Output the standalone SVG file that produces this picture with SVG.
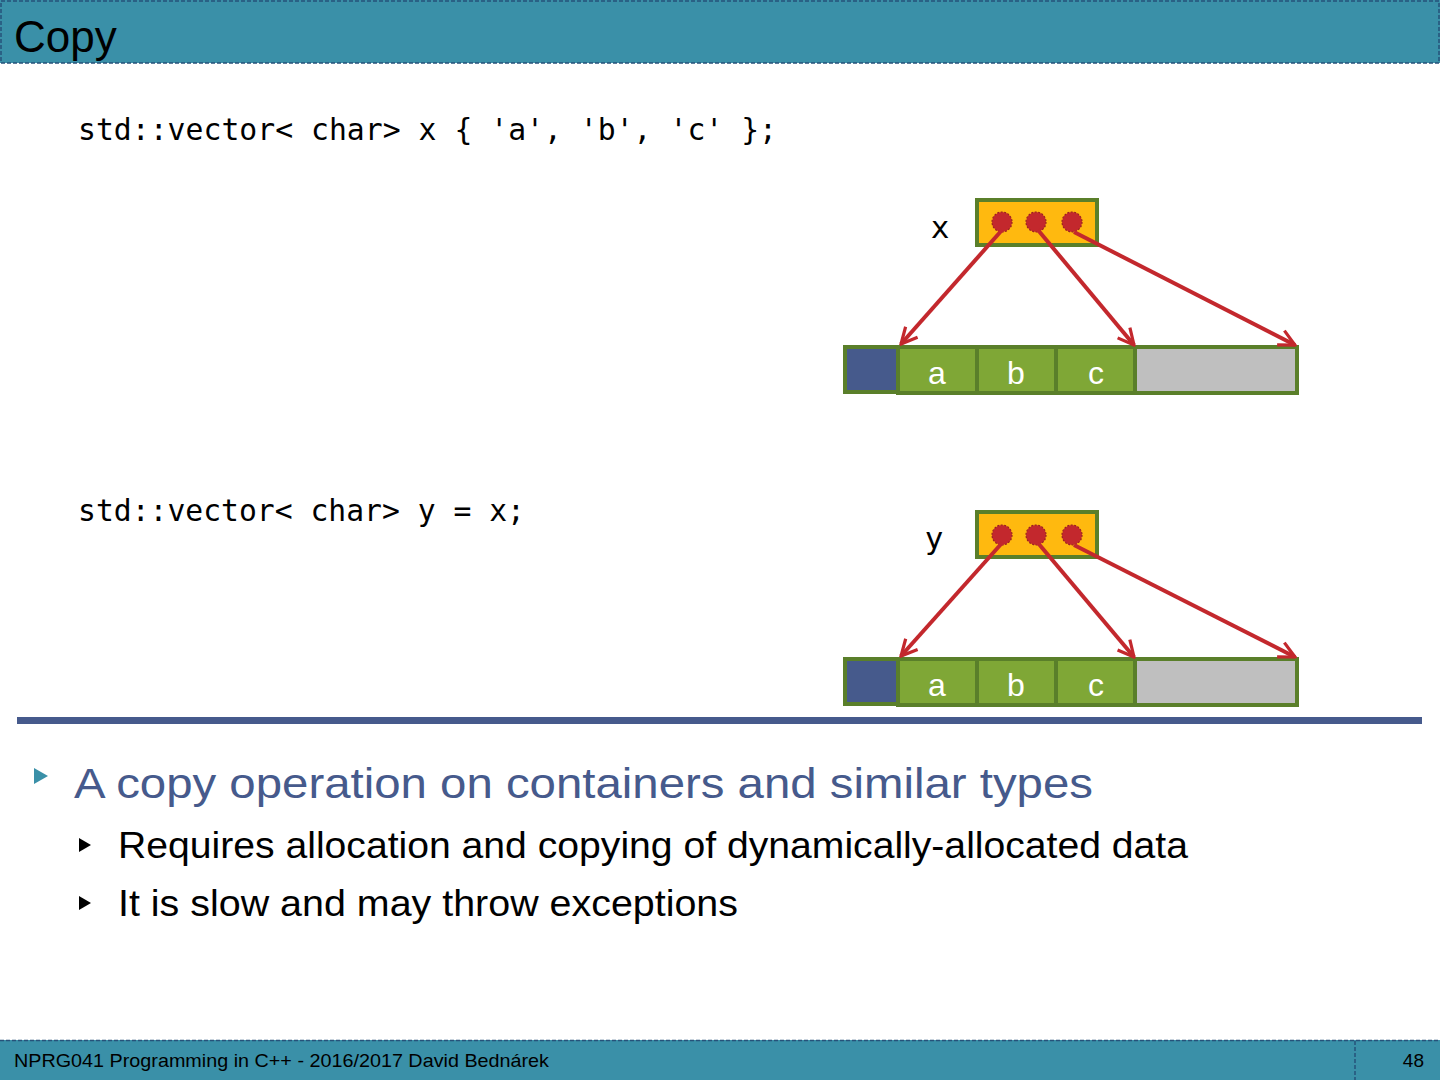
<svg xmlns="http://www.w3.org/2000/svg" width="1440" height="1080" viewBox="0 0 1440 1080">
<defs>
<style>
.code{font-family:"DejaVu Sans Mono","Liberation Mono",monospace;font-size:31px;fill:#000}
.cell{stroke:#5A7F2A;stroke-width:4}
.g{fill:#7FA736}
.lbl{font-family:"Liberation Sans",Arial,sans-serif;font-size:32px;fill:#fff;text-anchor:middle}
.dot{fill:#C3282D;stroke:#9A1E22;stroke-width:1.2;stroke-dasharray:2 1.5}
.arr{stroke:#C3282D;stroke-width:4;fill:none;marker-end:url(#ah)}
.ptr{fill:#FFB90F;stroke:#5A7F2A;stroke-width:4}
.sans{font-family:"Liberation Sans",Arial,sans-serif}
</style>
<marker id="ah" viewBox="0 0 10 10" refX="9" refY="5" markerWidth="5" markerHeight="5" orient="auto" markerUnits="strokeWidth">
<path d="M1,1 L9,5 L1,9" fill="none" stroke="#C3282D" stroke-width="1.6"/>
</marker>
</defs>
<rect width="1440" height="1080" fill="#fff"/>
<g id="header">
<rect x="0" y="0" width="1440" height="63" fill="#3A90A8"/>
<rect x="1" y="1" width="1438" height="62" fill="none" stroke="#26527A" stroke-width="1.5" stroke-dasharray="4 2"/>
<text x="14" y="52" class="sans" font-size="44" fill="#000">Copy</text>
</g>
<g id="code1"><text x="78" y="140" class="code" textLength="699" lengthAdjust="spacingAndGlyphs">std::vector&lt; char&gt; x { 'a', 'b', 'c' };</text></g>
<g id="code2"><text x="78" y="521" class="code" textLength="447" lengthAdjust="spacingAndGlyphs">std::vector&lt; char&gt; y = x;</text></g>

<g id="x-label"><text x="940" y="238" class="code" text-anchor="middle">x</text></g>
<g id="x-ptr">
<rect x="977" y="200" width="120" height="45" class="ptr"/>
<circle cx="1002" cy="222" r="10" class="dot"/>
<circle cx="1036" cy="222" r="10" class="dot"/>
<circle cx="1072" cy="222" r="10" class="dot"/>
</g>
<g id="x-array">
<rect x="845" y="347" width="53" height="45" fill="#465A8C" class="cell"/>
<rect x="898" y="347" width="79" height="46" class="cell g"/>
<rect x="977" y="347" width="79" height="46" class="cell g"/>
<rect x="1056" y="347" width="79" height="46" class="cell g"/>
<rect x="1135" y="347" width="162" height="46" fill="#BFBFBF" class="cell"/>
<text x="937" y="384" class="lbl">a</text>
<text x="1016" y="384" class="lbl">b</text>
<text x="1096" y="384" class="lbl">c</text>
</g>

<g id="y-label"><text x="934" y="549" class="code" text-anchor="middle">y</text></g>
<g id="y-ptr">
<rect x="977" y="512" width="120" height="45" class="ptr"/>
<circle cx="1002" cy="535" r="10" class="dot"/>
<circle cx="1036" cy="535" r="10" class="dot"/>
<circle cx="1072" cy="535" r="10" class="dot"/>
</g>
<g id="y-array">
<rect x="845" y="659" width="53" height="45" fill="#465A8C" class="cell"/>
<rect x="898" y="659" width="79" height="46" class="cell g"/>
<rect x="977" y="659" width="79" height="46" class="cell g"/>
<rect x="1056" y="659" width="79" height="46" class="cell g"/>
<rect x="1135" y="659" width="162" height="46" fill="#BFBFBF" class="cell"/>
<text x="937" y="696" class="lbl">a</text>
<text x="1016" y="696" class="lbl">b</text>
<text x="1096" y="696" class="lbl">c</text>
</g>

<g id="connectors">
<line x1="1002" y1="230" x2="901" y2="344" class="arr"/>
<line x1="1038" y1="230" x2="1134" y2="345" class="arr"/>
<line x1="1074" y1="232" x2="1295" y2="345" class="arr"/>
<line x1="1002" y1="543" x2="901" y2="656" class="arr"/>
<line x1="1038" y1="543" x2="1134" y2="657" class="arr"/>
<line x1="1074" y1="545" x2="1295" y2="657" class="arr"/>
</g>

<g id="separator"><rect x="17" y="717" width="1405" height="7" fill="#465A8C"/></g>

<g id="bullets">
<path d="M34,768 L48,776 L34,784 Z" fill="#3A90A8"/>
<text x="74" y="798" class="sans" font-size="42" fill="#465A8C" textLength="1019" lengthAdjust="spacingAndGlyphs">A copy operation on containers and similar types</text>
<path d="M79,838 L91,845 L79,852 Z" fill="#000"/>
<text x="118" y="858" class="sans" font-size="36" fill="#000" textLength="1070" lengthAdjust="spacingAndGlyphs">Requires allocation and copying of dynamically-allocated data</text>
<path d="M79,896 L91,903 L79,910 Z" fill="#000"/>
<text x="118" y="916" class="sans" font-size="36" fill="#000" textLength="620" lengthAdjust="spacingAndGlyphs">It is slow and may throw exceptions</text>
</g>

<g id="footer">
<rect x="0" y="1040" width="1440" height="40" fill="#3A90A8"/>
<line x1="0" y1="1040.5" x2="1440" y2="1040.5" stroke="#26527A" stroke-width="1.5" stroke-dasharray="4 2"/>
<line x1="1355" y1="1041" x2="1355" y2="1080" stroke="#26527A" stroke-width="1.5" stroke-dasharray="4 2"/>
<text x="14" y="1067" class="sans" font-size="19" fill="#000" textLength="535" lengthAdjust="spacingAndGlyphs">NPRG041 Programming in C++ - 2016/2017 David Bednárek</text>
<text x="1424" y="1067" class="sans" font-size="19" fill="#000" text-anchor="end">48</text>
</g>
</svg>
